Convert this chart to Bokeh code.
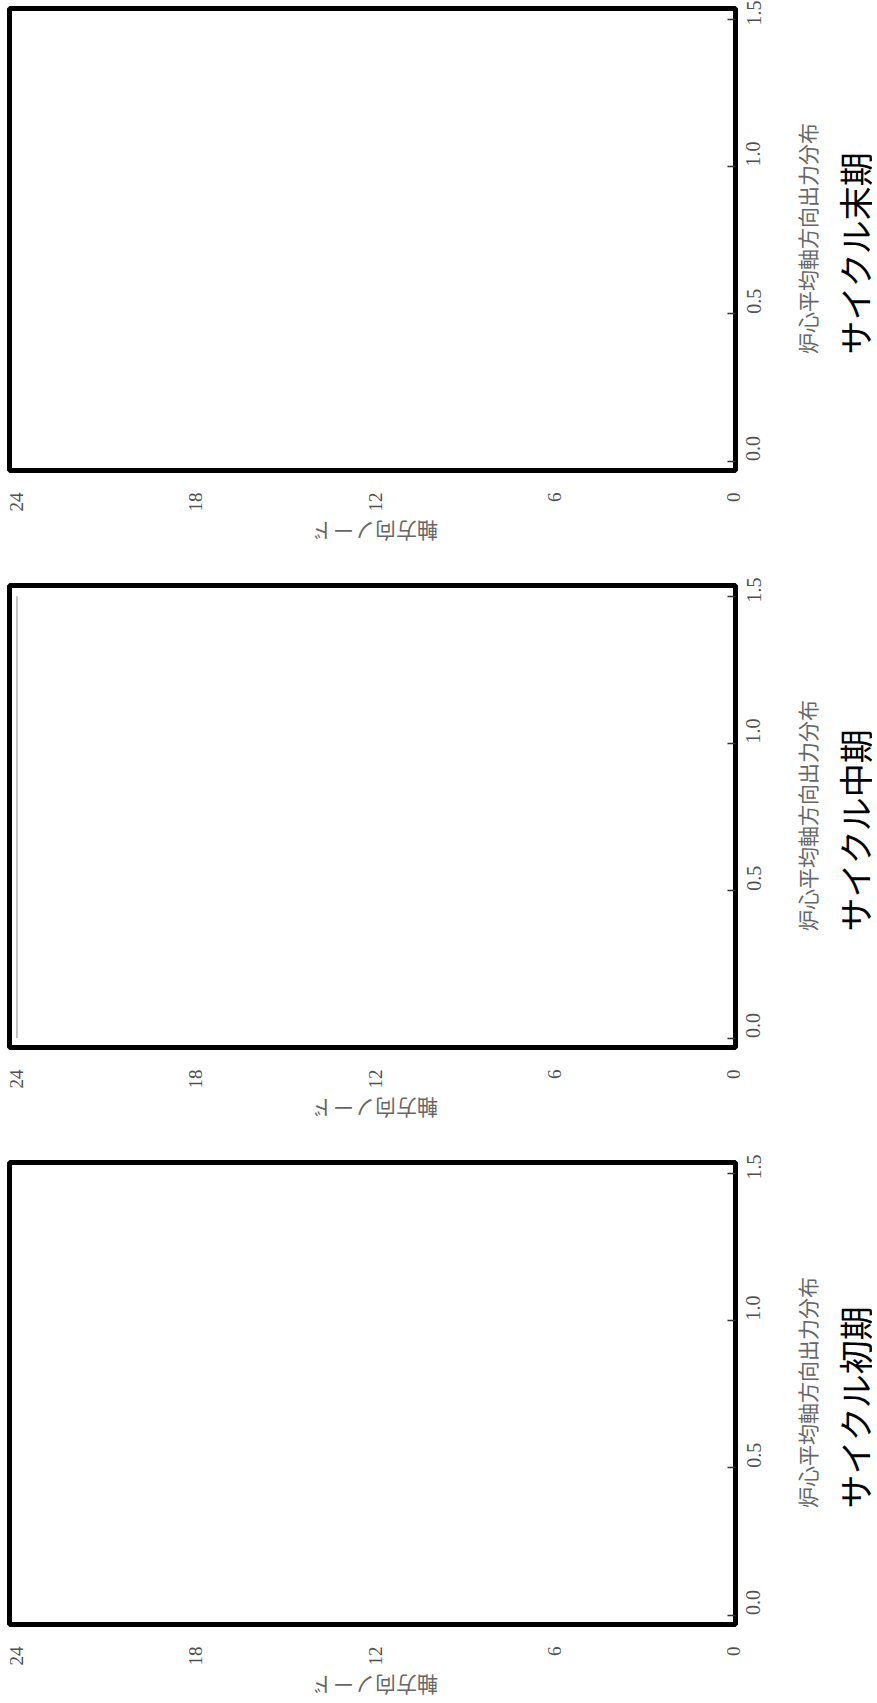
import math
from bokeh.plotting import figure
from bokeh.models import Range1d, FixedTicker, PrintfTickFormatter
from bokeh.core.properties import value
from bokeh.layouts import column, row
from bokeh.embed import file_html
from bokeh.resources import INLINE

# ---- data ----
panel_titles = ["サイクル末期", "サイクル中期", "サイクル初期"]
node_ticks = [0, 6, 12, 18, 24]
power_ticks = [0.0, 0.5, 1.0, 1.5]
power_label = "炉心平均軸方向出力分布"
node_label = "軸方向ノード"
# only one faint trace is visible (middle panel, along node 24)
trace_nodes = {"サイクル中期": [24, 24]}
trace_power = {"サイクル中期": [0.0, 1.5]}

SERIF = "Liberation Serif"
CJK = "Noto Sans CJK JP"
FW, FH = 726, 462
ML, MT, MR, MB = 9, 8, 50, 45           # borders of the main plot
MAIN_W = ML + FW + MR                    # 785
MAIN_H = MT + FH + MB                    # 515
SIDE_W = 87


def blank(width, height, x_range, y_range, **kw):
    f = figure(width=width, height=height, x_range=x_range, y_range=y_range,
               output_backend="svg", toolbar_location=None,
               x_axis_location=None, y_axis_location=None, **kw)
    f.grid.visible = False
    f.outline_line_color = None
    f.background_fill_color = "white"
    f.border_fill_color = "white"
    return f


def make_panel(title, panel_h):
    x_range = Range1d(24.25, -0.08)
    p = figure(frame_width=FW, frame_height=FH,
               x_range=x_range, y_range=Range1d(-0.032, 1.536),
               output_backend="svg", toolbar_location=None,
               x_axis_location="below", y_axis_location="right",
               min_border_left=ML, min_border_top=MT, min_border_right=MR,
               min_border_bottom=MB)
    p.grid.visible = False
    p.outline_line_color = "black"
    p.outline_line_width = 5
    p.background_fill_color = "white"
    p.border_fill_color = "white"

    xa = p.xaxis[0]
    xa.ticker = FixedTicker(ticks=node_ticks)
    xa.major_label_orientation = math.pi / 2
    xa.major_tick_line_color = None
    xa.minor_tick_line_color = None
    xa.axis_line_color = None
    xa.major_label_text_font = SERIF
    xa.major_label_text_font_size = "19px"
    xa.major_label_text_color = "#505050"
    xa.major_label_standoff = 16

    ya = p.yaxis[0]
    ya.ticker = FixedTicker(ticks=power_ticks)
    ya.formatter = PrintfTickFormatter(format="%.1f")
    ya.major_label_orientation = math.pi / 2
    ya.major_tick_in = 8
    ya.major_tick_out = 0
    ya.major_tick_line_color = "#333333"
    ya.major_tick_line_width = 1.5
    ya.minor_tick_line_color = None
    ya.axis_line_color = None
    ya.major_label_text_font = SERIF
    ya.major_label_text_font_size = "20px"
    ya.major_label_text_color = "#505050"
    ya.major_label_standoff = 18

    if title in trace_nodes:
        p.line(trace_nodes[title], trace_power[title], line_color="#8a8a8a", line_width=1)

    # strip below the plot carrying the node-axis title (upside down)
    below_h = panel_h - MAIN_H
    below = blank(MAIN_W, below_h, x_range, Range1d(0, below_h),
                  min_border_left=ML, min_border_right=MR, min_border_top=0,
                  min_border_bottom=0)
    below.text(x=[(node_ticks[0] + node_ticks[-1]) / 2], y=[below_h - 16],
               text=[node_label], angle=math.pi,
               text_align="center", text_baseline="middle",
               text_font=value(CJK), text_font_size=value("21px"),
               text_color="#666666")

    # strip on the right carrying the power-axis title and the panel title
    side = blank(SIDE_W, panel_h, Range1d(0, SIDE_W), Range1d(0, panel_h),
                 min_border=0)
    side.text(x=[21], y=[panel_h - 238], text=[power_label], angle=math.pi / 2,
              text_align="center", text_baseline="middle",
              text_font=value(CJK), text_font_size=value("21px"),
              text_color="#666666")
    side.text(x=[69], y=[panel_h - 252], text=[title], angle=math.pi / 2,
              text_align="center", text_baseline="middle",
              text_font=value(CJK), text_font_size=value("34px"),
              text_color="black")

    return row(column(p, below, spacing=0), side, spacing=0)


panels = [make_panel(panel_titles[0], 577), make_panel(panel_titles[1], 577),
          make_panel(panel_titles[2], 544)]
layout = column(*panels, spacing=0)

open("out.html", "w").write(file_html(layout, INLINE))
